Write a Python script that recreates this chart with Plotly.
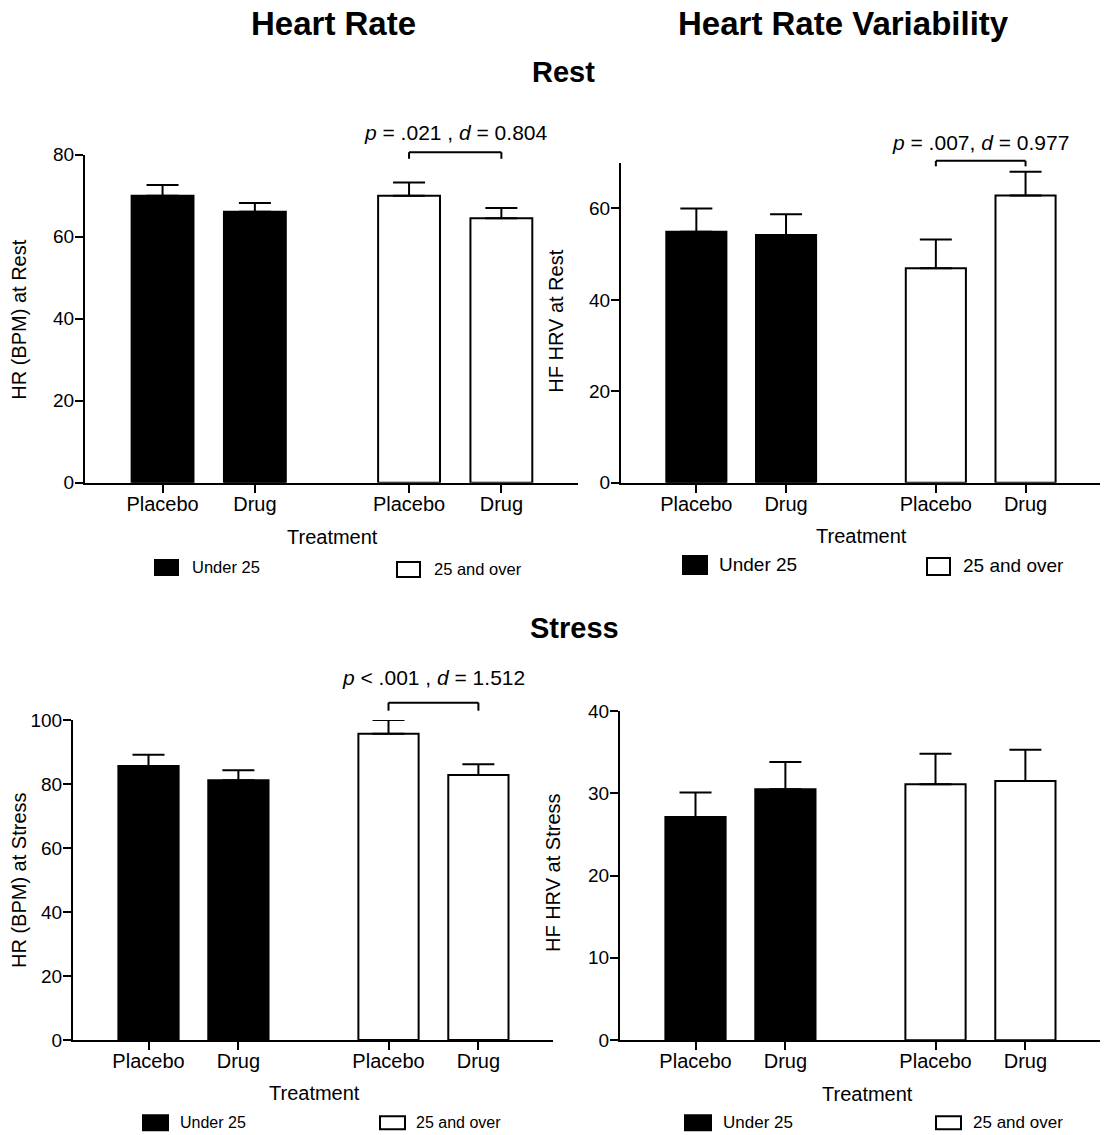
import plotly.graph_objects as go

# ---------------- data ----------------
categories = ["Placebo", "Drug"]
groups = ["Under 25", "25 and over"]

hr_rest_under = [70.0, 66.1]
hr_rest_under_err = [2.6, 2.1]
hr_rest_over = [70.0, 64.5]
hr_rest_over_err = [3.2, 2.5]

hrv_rest_under = [54.9, 54.2]
hrv_rest_under_err = [5.1, 4.5]
hrv_rest_over = [46.9, 62.8]
hrv_rest_over_err = [6.3, 5.2]

hr_stress_under = [85.6, 81.2]
hr_stress_under_err = [3.5, 3.1]
hr_stress_over = [95.7, 82.8]
hr_stress_over_err = [4.3, 3.4]

hrv_stress_under = [27.1, 30.5]
hrv_stress_under_err = [3.0, 3.3]
hrv_stress_over = [31.1, 31.5]
hrv_stress_over_err = [3.7, 3.8]

stat_rest_hr = "<i>p</i> = .021 , <i>d</i> = 0.804"
stat_rest_hrv = "<i>p</i> = .007, <i>d</i> = 0.977"
stat_stress_hr = "<i>p</i> &lt; .001 , <i>d</i> = 1.512"

# ---------------- layout helpers ----------------
W, H = 1106, 1135
FONT = "Liberation Sans, Arial, Helvetica, sans-serif"
X0, X1 = 0.16, 5.5
POS_UNDER = [1.0, 2.0]
POS_OVER = [3.67, 4.67]
BAR_W = 0.67


def fx(px):
    return px / W


def fy(py):
    s = (py - 10.4) / 0.981
    return 1 - s / H


panels = [
    dict(u=hr_rest_under, ue=hr_rest_under_err, o=hr_rest_over, oe=hr_rest_over_err,
         top=80, dtick=20, ytitle="HR (BPM) at Rest", xd=(85, 578), yd=(155, 483)),
    dict(u=hrv_rest_under, ue=hrv_rest_under_err, o=hrv_rest_over, oe=hrv_rest_over_err,
         top=70, dtick=20, ytitle="HF HRV at Rest", xd=(621, 1100), yd=(163, 483)),
    dict(u=hr_stress_under, ue=hr_stress_under_err, o=hr_stress_over, oe=hr_stress_over_err,
         top=100, dtick=20, ytitle="HR (BPM) at Stress", xd=(73, 553), yd=(720, 1040)),
    dict(u=hrv_stress_under, ue=hrv_stress_under_err, o=hrv_stress_over, oe=hrv_stress_over_err,
         top=40, dtick=10, ytitle="HF HRV at Stress", xd=(620, 1100), yd=(711, 1040)),
]

fig = go.Figure()
layout = dict(
    width=W, height=H,
    margin=dict(l=0, r=0, t=0, b=0),
    paper_bgcolor="white", plot_bgcolor="white",
    barmode="overlay", showlegend=False, hovermode=False,
    font=dict(family=FONT, color="black", size=18),
)

annotations = []
shapes = []

for i, p in enumerate(panels):
    n = "" if i == 0 else str(i + 1)
    xa, ya = "x" + n, "y" + n
    fig.add_trace(go.Bar(
        x=POS_UNDER, y=p["u"], width=BAR_W, name=groups[0],
        marker=dict(color="black", line=dict(color="black", width=2)),
        error_y=dict(type="data", array=p["ue"], arrayminus=[0, 0], symmetric=False,
                     color="black", thickness=2, width=16),
        xaxis=xa, yaxis=ya, hovertext=categories,
    ))
    fig.add_trace(go.Bar(
        x=POS_OVER, y=p["o"], width=BAR_W, name=groups[1],
        marker=dict(color="white", line=dict(color="black", width=2)),
        error_y=dict(type="data", array=p["oe"], arrayminus=[0, 0], symmetric=False,
                     color="black", thickness=2, width=16),
        xaxis=xa, yaxis=ya, hovertext=categories,
    ))
    layout["xaxis" + n] = dict(
        domain=[fx(p["xd"][0]), fx(p["xd"][1])], anchor=ya, range=[X0, X1],
        tickvals=POS_UNDER + POS_OVER, ticktext=categories + categories,
        showline=True, linecolor="black", linewidth=2,
        ticks="outside", ticklen=8, tickwidth=2, tickcolor="black",
        ticklabelstandoff=-6,
        showgrid=False, zeroline=False, tickfont=dict(size=20, family=FONT),
        fixedrange=True,
    )
    layout["yaxis" + n] = dict(
        domain=[fy(p["yd"][1]), fy(p["yd"][0])], anchor=xa, range=[0, p["top"]],
        dtick=p["dtick"], tick0=0,
        showline=True, linecolor="black", linewidth=2,
        ticks="outside", ticklen=8, tickwidth=2, tickcolor="black",
        ticklabelstandoff=-3,
        showgrid=False, zeroline=False, tickfont=dict(size=19, family=FONT),
        fixedrange=True,
    )

# ---------------- axis titles ----------------
ytitle_pos = [(19, 320), (556, 322), (19, 880), (553, 873)]
treat_pos = [(332, 537), (861, 536), (314, 1093), (867, 1094)]
for p, (tx, ty), (gx, gy) in zip(panels, ytitle_pos, treat_pos):
    annotations.append(dict(text=p["ytitle"], x=fx(tx), y=fy(ty), xref="paper", yref="paper",
                            textangle=-90, showarrow=False, font=dict(size=20, family=FONT),
                            xanchor="center", yanchor="middle"))
    annotations.append(dict(text="Treatment", x=fx(gx), y=fy(gy), xref="paper", yref="paper",
                            showarrow=False, font=dict(size=20, family=FONT),
                            xanchor="center", yanchor="middle"))

# ---------------- headings ----------------
heads = [("Heart Rate", 333, 24, 33), ("Heart Rate Variability", 843, 24, 33),
         ("Rest", 563, 72, 29), ("Stress", 574, 628, 29)]
for t, hx, hy, sz in heads:
    annotations.append(dict(text="<b>" + t + "</b>", x=fx(hx), y=fy(hy), xref="paper", yref="paper",
                            showarrow=False, font=dict(size=sz, family=FONT),
                            xanchor="center", yanchor="middle"))

# ---------------- significance brackets ----------------
brackets = [  # panel index, low, high, text y, text
    (0, 79.0, 80.6, 85.4, stat_rest_hr),
    (1, 69.2, 70.4, 74.4, stat_rest_hrv),
    (2, 102.9, 105.4, 113.4, stat_stress_hr),
]


def dom_x(v):
    return (v - X0) / (X1 - X0)


for idx, lo, hi, ty, txt in brackets:
    n = "" if idx == 0 else str(idx + 1)
    top = panels[idx]["top"]
    a, b = POS_OVER
    xr, yr = "x" + n + " domain", "y" + n + " domain"
    ln = dict(color="black", width=2)
    shapes.append(dict(type="line", xref=xr, yref=yr, x0=dom_x(a), x1=dom_x(a),
                       y0=lo / top, y1=hi / top, line=ln))
    shapes.append(dict(type="line", xref=xr, yref=yr, x0=dom_x(a), x1=dom_x(b),
                       y0=hi / top, y1=hi / top, line=ln))
    shapes.append(dict(type="line", xref=xr, yref=yr, x0=dom_x(b), x1=dom_x(b),
                       y0=lo / top, y1=hi / top, line=ln))
    annotations.append(dict(text=txt, x=dom_x((a + b) / 2), y=ty / top, xref=xr, yref=yr,
                            showarrow=False, font=dict(size=21, family=FONT),
                            xanchor="center", yanchor="middle"))

# ---------------- legends ----------------
legends = [
    ((155, 560, 178, 575), 190, 567, (397, 562, 420, 577), 432, 569, 16.5),
    ((683, 556, 707, 574), 717, 565, (927, 558, 950, 575), 961, 566, 19),
    ((143, 1115, 168, 1130), 178, 1122, (380, 1116, 405, 1129), 414, 1122, 16),
    ((685, 1115, 711, 1130), 721, 1122, (936, 1116, 961, 1129), 971, 1122, 17),
]
for bb, btx, bty, wb, wtx, wty, sz in legends:
    shapes.append(dict(type="rect", xref="paper", yref="paper",
                       x0=fx(bb[0]), x1=fx(bb[2]), y0=fy(bb[3]), y1=fy(bb[1]),
                       fillcolor="black", line=dict(color="black", width=2)))
    shapes.append(dict(type="rect", xref="paper", yref="paper",
                       x0=fx(wb[0]), x1=fx(wb[2]), y0=fy(wb[3]), y1=fy(wb[1]),
                       fillcolor="white", line=dict(color="black", width=2)))
    annotations.append(dict(text=groups[0], x=fx(btx), y=fy(bty), xref="paper", yref="paper",
                            showarrow=False, font=dict(size=sz, family=FONT),
                            xanchor="left", yanchor="middle"))
    annotations.append(dict(text=groups[1], x=fx(wtx), y=fy(wty), xref="paper", yref="paper",
                            showarrow=False, font=dict(size=sz, family=FONT),
                            xanchor="left", yanchor="middle"))

layout["annotations"] = annotations
layout["shapes"] = shapes
fig.update_layout(**layout)
fig.write_html("out.html", config={"displayModeBar": False, "staticPlot": True},
               post_script="document.body.style.margin='0';")
